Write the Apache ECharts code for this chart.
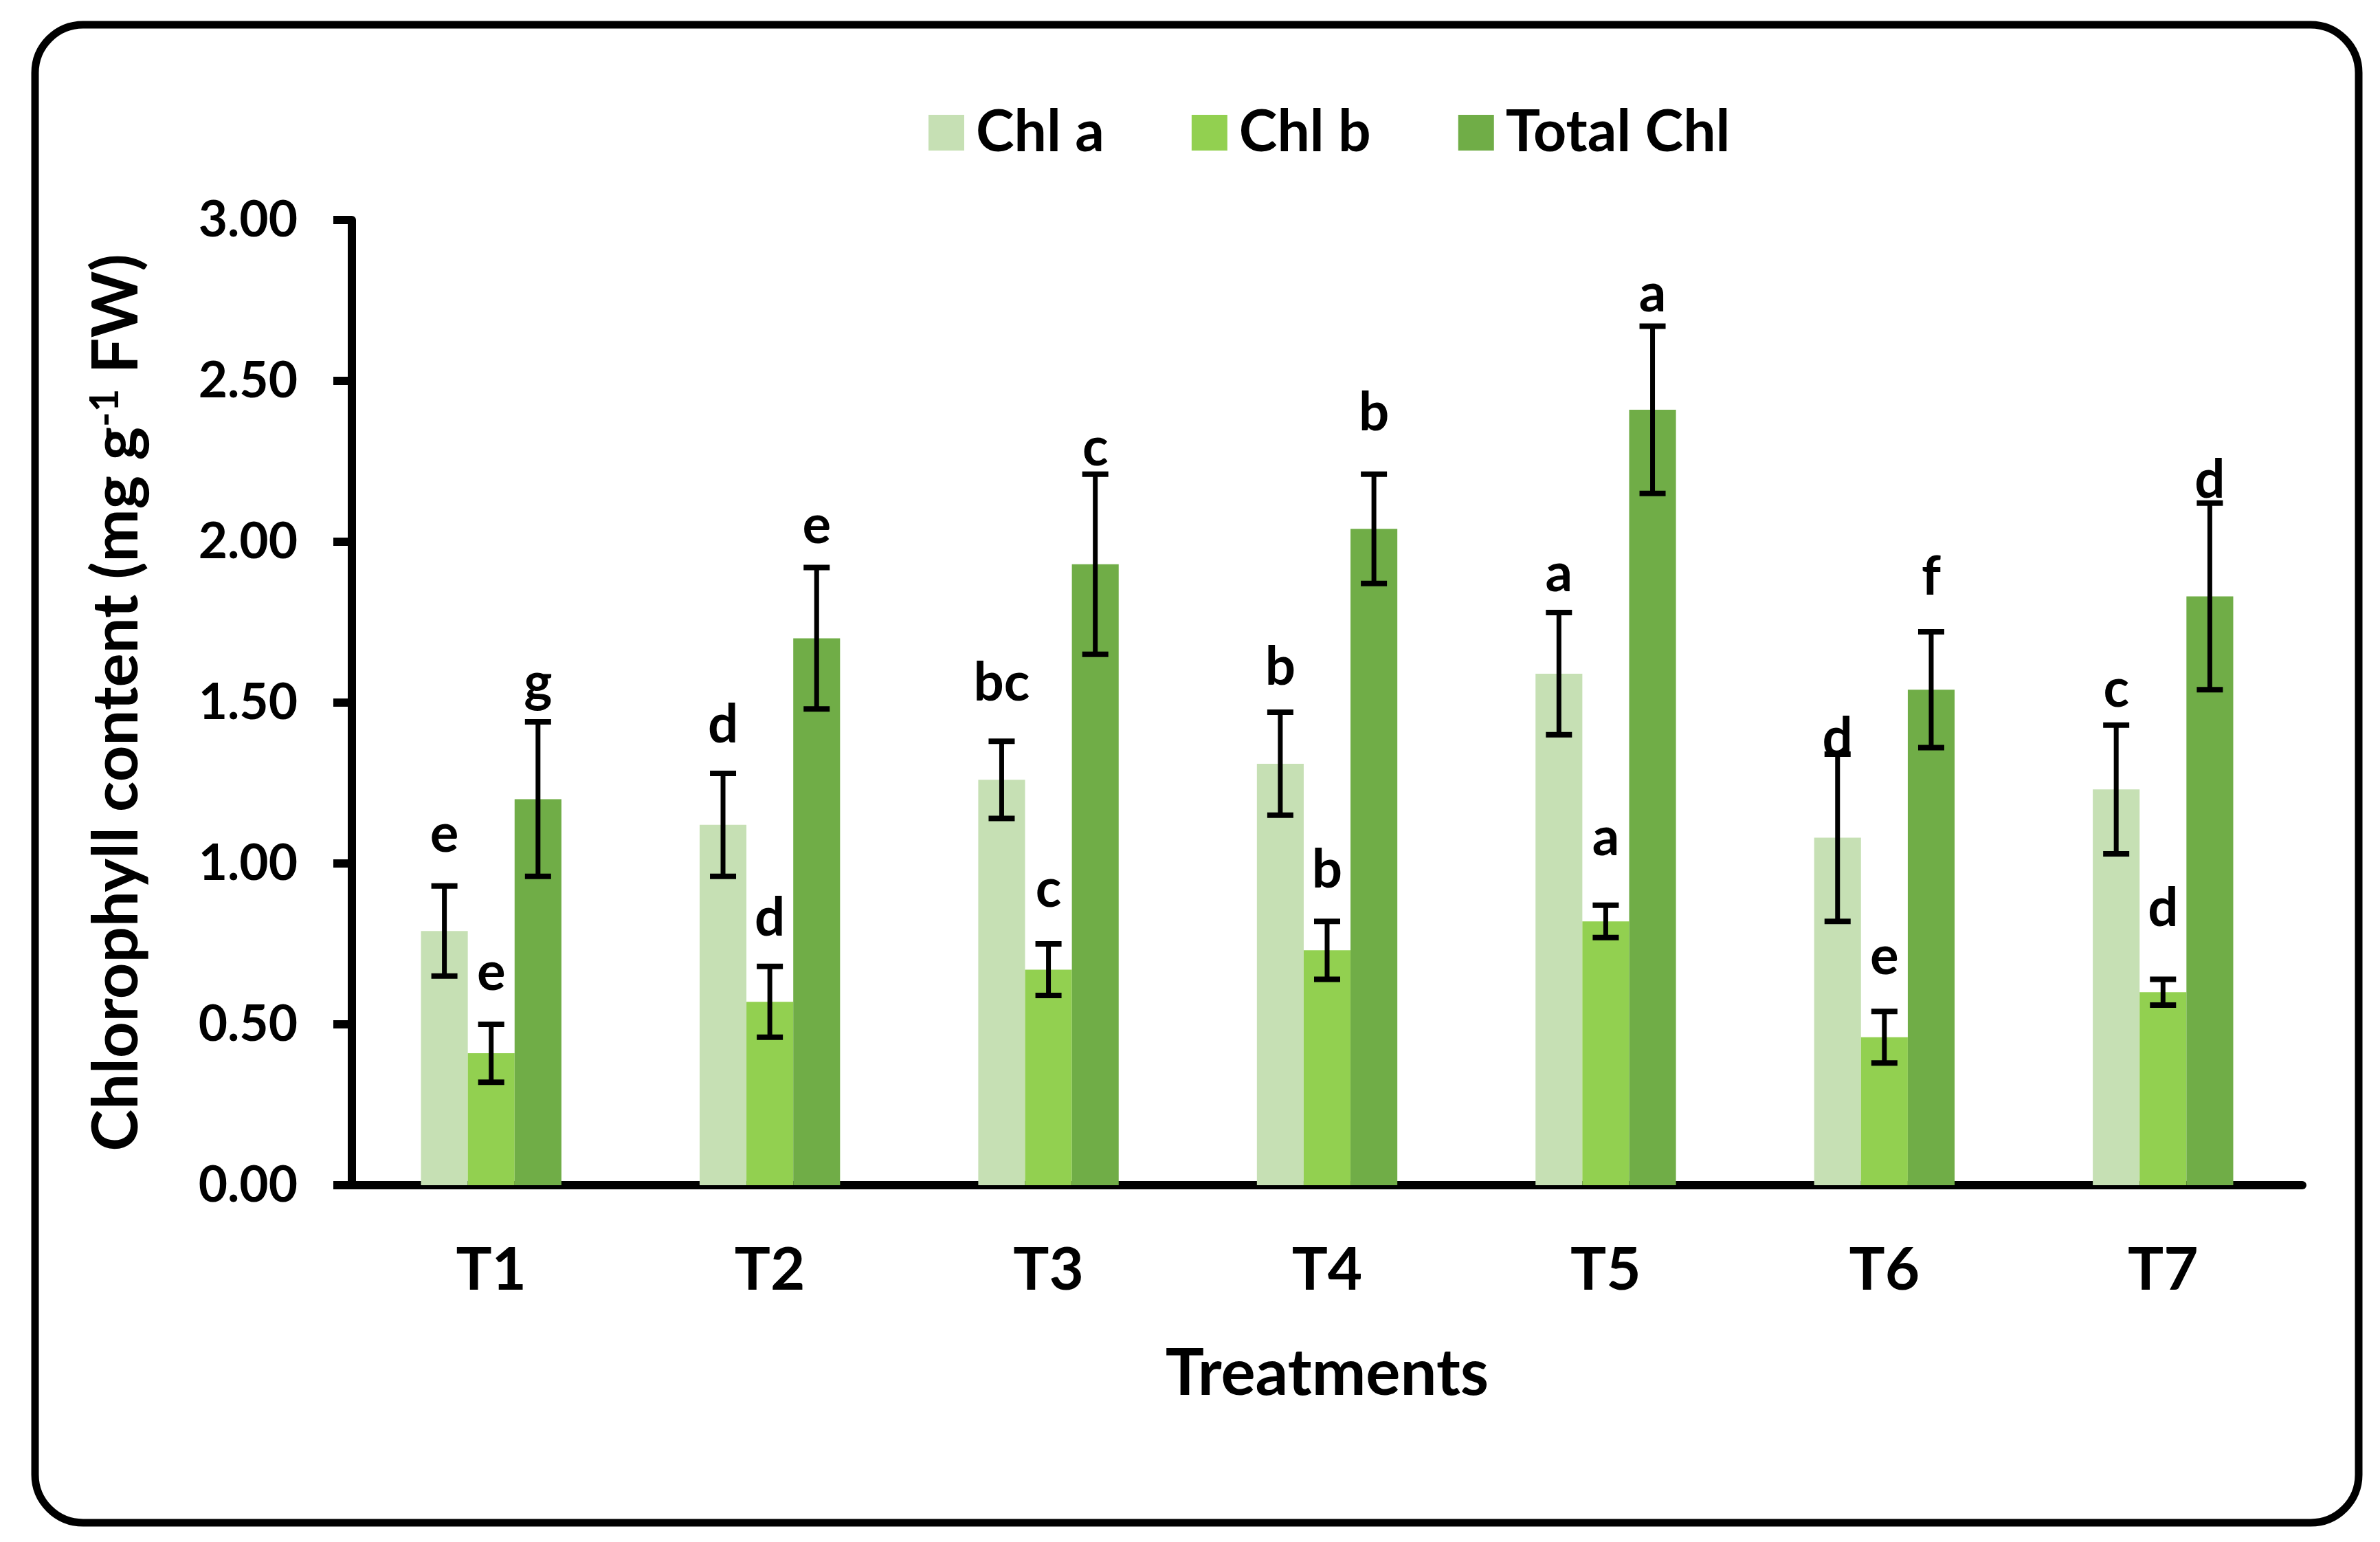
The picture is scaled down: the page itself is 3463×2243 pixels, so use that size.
<!DOCTYPE html>
<html>
<head>
<meta charset="utf-8">
<script src="https://cdn.jsdelivr.net/npm/echarts@6/dist/echarts.min.js"></script>
<style>
html,body{margin:0;padding:0;background:#fff;}
#chart{width:3463px;height:2243px;}
</style>
</head>
<body>
<div id="chart"></div>
<script>
// ---- data ----
const categories = ['T1','T2','T3','T4','T5','T6','T7'];
const seriesNames = ['Chl a','Chl b','Total Chl'];
const chlA      = [0.79, 1.12, 1.26, 1.31, 1.59, 1.08, 1.23];
const chlAErr   = [0.14, 0.16, 0.12, 0.16, 0.19, 0.26, 0.20];
const chlALet   = ['e','d','bc','b','a','d','c'];
const chlALetY  = [1.04, 1.38, 1.51, 1.56, 1.85, 1.34, 1.49];
const chlB      = [0.41, 0.57, 0.67, 0.73, 0.82, 0.46, 0.60];
const chlBErr   = [0.09, 0.11, 0.08, 0.09, 0.05, 0.08, 0.04];
const chlBLet   = ['e','d','c','b','a','e','d'];
const chlBLetY  = [0.61, 0.78, 0.87, 0.93, 1.03, 0.66, 0.81];
const totChl    = [1.20, 1.70, 1.93, 2.04, 2.41, 1.54, 1.83];
const totErr    = [0.24, 0.22, 0.28, 0.17, 0.26, 0.18, 0.29];
const totLet    = ['g','e','c','b','a','f','d'];
const totLetY   = [1.51, 2.00, 2.24, 2.35, 2.72, 1.84, 2.14];
const yTicks    = [0, 0.5, 1, 1.5, 2, 2.5, 3];

// ---- styles ----
const FONT = 'Lato, "Open Sans", "Liberation Sans", sans-serif';
const COLORS = ['#C6E0B4', '#92D050', '#70AD47'];
const BAR_FRAC = 0.168;
const LET_FS = 78;

const values = [chlA, chlB, totChl];
const errs = [chlAErr, chlBErr, totErr];
const lets = [chlALet, chlBLet, totLet];
const letY = [chlALetY, chlBLetY, totLetY];

const chart = echarts.init(document.getElementById('chart'), null, {renderer: 'canvas'});

const barSeries = seriesNames.map((n, k) => ({
  name: n,
  type: 'bar',
  data: values[k],
  barWidth: (BAR_FRAC * 100) + '%',
  barGap: '0%',
  itemStyle: {color: COLORS[k]},
  z: 2
}));

const errSeries = seriesNames.map((n, k) => ({
  name: n + ' err',
  type: 'custom',
  z: 5,
  data: values[k].map((v, i) => [i, v, errs[k][i], letY[k][i]]),
  encode: {x: 0, y: 1},
  renderItem: function (params, api) {
    const ci = api.value(0), v = api.value(1), e = api.value(2), ly = api.value(3);
    const band = api.size([1, 0])[0];
    const bw = band * BAR_FRAC;
    const c = api.coord([ci, v]);
    const x = c[0] + (k - 1) * bw;
    const yt = api.coord([ci, v + e])[1];
    const yb = api.coord([ci, v - e])[1];
    const ybase = api.coord([ci, ly])[1];
    const half = 19;
    const ls = {stroke: '#000', lineWidth: 7};
    const cs = {stroke: '#000', lineWidth: 8};
    return {
      type: 'group',
      children: [
        {type: 'line', shape: {x1: x, y1: yt, x2: x, y2: yb}, style: ls},
        {type: 'line', shape: {x1: x - half, y1: yt, x2: x + half, y2: yt}, style: cs},
        {type: 'line', shape: {x1: x - half, y1: yb, x2: x + half, y2: yb}, style: cs},
        {type: 'text', style: {
          text: lets[k][params.dataIndex],
          x: x, y: ybase - 0.3 * LET_FS,
          align: 'center', verticalAlign: 'middle',
          fontSize: LET_FS, fontWeight: 'bold', fontFamily: FONT, fill: '#000'
        }}
      ]
    };
  }
}));

const option = {
  animation: false,
  backgroundColor: '#fff',
  textStyle: {fontFamily: FONT},
  graphic: [{
    type: 'rect',
    shape: {x: 51, y: 36, width: 3381, height: 2179, r: 70},
    style: {fill: 'none', stroke: '#000', lineWidth: 11},
    z: 0
  }],
  legend: {
    data: seriesNames,
    top: 146,
    left: 1346,
    icon: 'rect',
    itemWidth: 52,
    itemHeight: 52,
    itemGap: 127,
    textStyle: {fontSize: 84, fontWeight: 'bold', fontFamily: FONT, color: '#000', padding: [0, 0, 0, 12]}
  },
  grid: {left: 512, right: 113, top: 320, bottom: 519, containLabel: false},
  xAxis: {
    type: 'category',
    data: categories,
    name: 'Treatments',
    nameLocation: 'middle',
    nameGap: 228,
    nameTextStyle: {fontSize: 94, fontWeight: 'bold', fontFamily: FONT, color: '#000'},
    axisLine: {lineStyle: {color: '#000', width: 12}},
    axisTick: {show: false},
    axisLabel: {fontSize: 87, fontWeight: 'bold', fontFamily: FONT, color: '#000', margin: 80},
    splitLine: {show: false}
  },
  yAxis: {
    type: 'value',
    min: 0, max: 3, interval: 0.5,
    name: '{t|Chlorophyll content (mg g}{s|-1}{t| FW)}',
    nameLocation: 'middle',
    nameRotate: 90,
    nameGap: 296,
    nameTextStyle: {
      rich: {
        t: {fontSize: 92, fontWeight: 'bold', fontFamily: FONT, color: '#000'},
        s: {fontSize: 58, fontWeight: 'bold', fontFamily: FONT, color: '#000', verticalAlign: 'top'}
      }
    },
    axisLine: {show: true, lineStyle: {color: '#000', width: 12}},
    axisTick: {show: true, length: 27, lineStyle: {color: '#000', width: 12}},
    axisLabel: {
      fontSize: 73, fontWeight: 'bold', fontFamily: FONT, color: '#000', margin: 79,
      formatter: v => (yTicks.indexOf(v) >= 0 ? v.toFixed(2) : '')
    },
    splitLine: {show: false}
  },
  series: barSeries.concat(errSeries)
};
chart.setOption(option);
</script>
</body>
</html>
